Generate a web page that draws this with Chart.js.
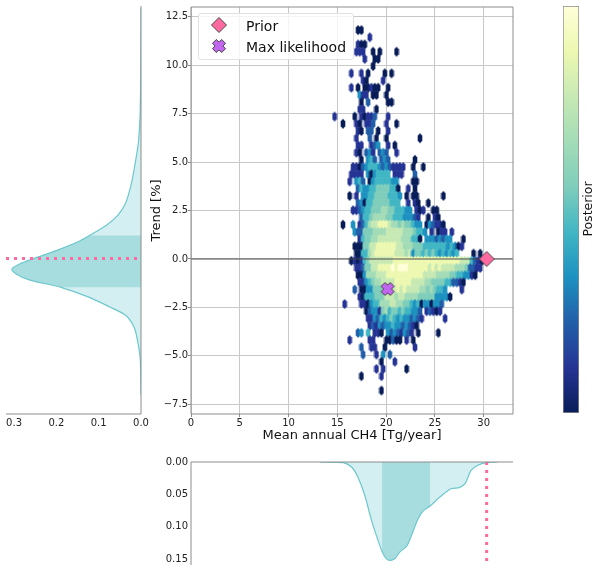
<!DOCTYPE html>
<html>
<head>
<meta charset="utf-8">
<title>Posterior</title>
<script src="https://cdn.jsdelivr.net/npm/chart.js@4"></script>
<style>
html,body{margin:0;padding:0;background:#fff;overflow:hidden;}
canvas{position:absolute;}
#left{left:0;top:0;}
#main{left:140px;top:0;}
#bottom{left:140px;top:450px;}
#cbar{left:555px;top:0;}
.legend{position:absolute;left:198px;top:13px;width:154px;height:45px;background:rgba(255,255,255,.8);border:1px solid #e2e2e2;border-radius:3px;font:14px "DejaVu Sans";color:#111;}
.legend span{position:absolute;left:47px;line-height:20px;white-space:nowrap;}
</style>
</head>
<body>
<canvas id="left" width="160" height="450"></canvas>
<canvas id="main" width="390" height="450"></canvas>
<canvas id="bottom" width="390" height="121"></canvas>
<canvas id="cbar" width="45" height="430"></canvas>
<div class="legend" id="legend"></div>
<script>
// axis ticks
const xTicks = [0,5,10,15,20,25,30];
const yTicks = [-7.5,-5,-2.5,0,2.5,5,7.5,10,12.5];
const leftTicks = [0,0.1,0.2,0.3];
const bottomTicks = [0,0.05,0.10,0.15];

// markers
const legendNames = ['Prior','Max likelihood'];
const priorPoint = {x:30.3, y:0};
const maxLikePoint = {x:20.15, y:-1.55};

// density along the trend axis (left panel)
const trendY = [12.9,10,7.5,6,5,4.03,3.34,2.82,2.22,1.7,1.19,0.89,0.41,-0.02,-0.28,-0.53,-0.79,-1.1,-1.48,-2,-2.48,-2.94,-3.55,-4.24,-5.1,-6.3,-7];
const trendDens = [0,0.0005,0.002,0.006,0.013,0.021,0.029,0.037,0.055,0.0825,0.122,0.146,0.2,0.256,0.287,0.305,0.295,0.264,0.189,0.122,0.075,0.035,0.016,0.008,0.002,0.0005,0];
const trendBand = [-1.48,1.19];

// density along the CH4 axis (bottom panel)
const ch4X = [13.2,15.6,16.45,17.1,17.8,18.5,19.17,19.58,20,20.4,20.9,21.4,22.1,22.6,23.3,23.8,24.5,25.5,26.7,27.5,28.1,28.7,29.4,30.3,31.4];
const ch4Dens = [0,0.001,0.0077,0.023,0.051,0.09,0.121,0.138,0.149,0.152,0.149,0.139,0.13,0.113,0.087,0.0755,0.068,0.054,0.041,0.0396,0.033,0.013,0.005,0.001,0];
const ch4Band = [19.58,24.5];

// hexbin lattice, one string per row from the top, digit = colour level, . = empty
const hexX0 = 14.376, hexDx = 0.343, hexY0 = 11.81, hexDy = 0.372;
const hexRows = [
"..... ...00",
"..... ..... .1",
"..... ...10 0",
"..... ..111 ..0.0 ....0",
"..... ..... 1..00",
"..... ..... ..0",
"..... .1..1 .0... .0.0",
"..... ....1 0.... 1",
"..... .1.0. 00100 ..0",
"..... ...31 1.00. .0",
"..... ....0 .2... ..00",
"..... ...11 ...0",
".1... ..0.1 0112. ..1",
"...0. ..10. 112.. .1..0",
"..... ...10 .22.0 ..1",
"..... ..1.. .2.0. .0... ..... .0",
"..... ...11 ..123 ..1.0",
"..... ..10. 231.2 32..1",
"..... ....0 .342. 232.. ..... 0",
"..... .1102 34443 23211 11..0 ..0",
"..... .1111 .3034 444.1 11... 2",
"..... 1.342 .0344 44433 ....0 0",
"..... ...24 33445 55544 0..1. 0",
"..... 0.1.3 34455 55444 3.0.0 0.... ...0",
"..... ...23 04455 55544 4..1. 10..0",
"..... .1123 44555 66554 4433. 101.. 00",
"..... ....2 44566 66554 44333 21..0 .10",
"...0. .3.12 46778 88766 56554 33.03 2110",
"..... ..322 55566 66777 77666 5443. 1.011 .1",
"..... ...14 55667 77777 76664 40.33 32323 3...0",
"..... ..000 55778 88888 77666 55544 44444 34301",
"..... ..004 46788 88887 77673 55454 54343 434.. ..0.0",
"..... .0101 45777 77778 88888 88888 88888 88887 77421 0",
"..... ..112 55778 88898 99988 88887 87877 77666 52211",
"..... ...00 36667 77888 88888 88877 77666 65544 3310",
"..... ...11 34566 77778 88887 77766 55554 42210",
"..... ..2.0 03355 57777 87877 77665 65443 ....1",
"..... ...10 44455 57776 77666 65555 53333 0",
"....1 ....1 10344 66677 66554 34033 0332",
"..... ..... 02331 56455 45443 32.12 101",
"..... ..... .1132 43454 34332 321.. ....1",
"..... ..... .1213 23343 32321 0",
"..... ...23 .4.11 0.323 21321 .0... ..0",
"..... 1.... .11.. .0020 0.1.0",
"..... ....2 ..11. .0... ..... 1",
"..... ....2 ...1. 3.2",
"..... ..... ..... 0...1",
"..... ..... ...1. 1.... ..0",
"..... ....0 ..... 1",
"",
"..... ..... ..... 0"
];
const levelColors = ['#081d58','#253494','#225ea8','#1d91c0','#41b6c4','#7fcdbb','#a3dcb7','#c7e9b4','#edf8b1','#ffffd9'];

const FONT = 'DejaVu Sans';
const SPINE = '#8c8c8c';
const TEAL = '#6cc8cc', TEAL_LIGHT = '#d4eff1', TEAL_DARK = '#a8dde0', PINK = '#ff69a0', PURPLE = '#c266f0';
Chart.defaults.font.family = FONT;
Chart.defaults.color = '#222';
Chart.defaults.animation = false;
Chart.defaults.responsive = false;
Chart.defaults.plugins.legend.display = false;
Chart.defaults.plugins.tooltip.enabled = false;

// little canvases used as point styles
const makeSprite = (w,h,path,fill,stroke) => {
    const c = document.createElement('canvas');
    c.width = w; c.height = h;
    const g = c.getContext('2d');
    g.translate(w/2,h/2);
    g.beginPath();
    path(g);
    g.closePath();
    g.fillStyle = fill;
    g.fill();
    if(stroke){
        g.strokeStyle = stroke;
        g.lineWidth = 1;
        g.stroke();
    }
    return c;
};
const hexPath = (g) => {
    const hw = 2.3, hh = 5;
    g.moveTo(0,-hh); g.lineTo(hw,-hh/2); g.lineTo(hw,hh/2); g.lineTo(0,hh); g.lineTo(-hw,hh/2); g.lineTo(-hw,-hh/2);
};
const diamondPath = (r) => (g) => {
    g.moveTo(0,-r); g.lineTo(r,0); g.lineTo(0,r); g.lineTo(-r,0);
};
const crossPath = (r) => (g) => {
    const t = r*0.42;
    const pts = [[-t,-r],[t,-r],[t,-t],[r,-t],[r,t],[t,t],[t,r],[-t,r],[-t,t],[-r,t],[-r,-t],[-t,-t]];
    pts.forEach((p,i) => {
        const px = (p[0]-p[1])*Math.SQRT1_2, py = (p[0]+p[1])*Math.SQRT1_2;
        if(i==0){ g.moveTo(px,py); } else { g.lineTo(px,py); }
    });
};
const hexSprites = levelColors.map(col => makeSprite(6,12,hexPath,col));
const priorSprite = makeSprite(18,18,diamondPath(7.5),PINK,'#444');
const maxSprite = makeSprite(18,18,crossPath(6.5),PURPLE,'#444');

// build hex cells from the rows
const hexCells = [];
const hexLevels = [];
hexRows.forEach((row,r) => {
    const cols = row.replace(/ /g,'');
    for(let c=0;c<cols.length;c++){
        if(cols[c]=='.') continue;
        hexCells.push({x: hexX0 + (c + (r%2)*0.5)*hexDx, y: hexY0 - r*hexDy});
        hexLevels.push(Number(cols[c]));
    }
});

const fixTicks = (values) => (scale) => { scale.ticks = values.map(v => ({value:v})); };
const minusLabel = (digits) => (v) => Number(v).toFixed(digits).replace('-','\u2212');
const pairs = (xs,ys) => xs.map((x,i) => ({x:x,y:ys[i]}));

// plot area border, only on the sides asked for
const spines = {
    id:'spines',
    afterDatasetsDraw(chart,args,opts){
        const {left,right,top,bottom} = chart.chartArea;
        const g = chart.ctx;
        g.save();
        g.strokeStyle = SPINE;
        g.lineWidth = 1;
        g.beginPath();
        if(opts.left){ g.moveTo(left,top); g.lineTo(left,bottom); }
        if(opts.right){ g.moveTo(right,top); g.lineTo(right,bottom); }
        if(opts.top){ g.moveTo(left,top); g.lineTo(right,top); }
        if(opts.bottom){ g.moveTo(left,bottom); g.lineTo(right,bottom); }
        g.stroke();
        g.restore();
    }
};

const tickOpts = (digits) => ({color:'#222',font:{size:10},padding:0,autoSkip:false,maxRotation:0,callback:minusLabel(digits)});

// left panel, density against trend
const trendPts = pairs(trendDens,trendY);
const trendBandPts = trendPts.filter(p => p.y>=trendBand[0] && p.y<=trendBand[1]);
const closeToY = (pts) => [{x:0,y:pts[0].y},...pts,{x:0,y:pts[pts.length-1].y}];
new Chart(document.getElementById('left'),{
    type:'scatter',
    data:{datasets:[
        {data:[{x:0.319,y:0},{x:0,y:0}],showLine:true,borderColor:PINK,borderWidth:3,borderDash:[3,5],pointRadius:0},
        {data:trendPts,showLine:true,borderColor:TEAL,borderWidth:1.2,pointRadius:0,tension:0.3},
        {data:closeToY(trendBandPts),showLine:true,fill:'shape',backgroundColor:TEAL_DARK,borderWidth:0,pointRadius:0},
        {data:closeToY(trendPts),showLine:true,fill:'shape',backgroundColor:TEAL_LIGHT,borderWidth:0,pointRadius:0}
    ]},
    options:{
        layout:{padding:{left:6,right:19,top:6,bottom:0}},
        scales:{
            x:{type:'linear',reverse:true,min:0,max:0.319,afterBuildTicks:fixTicks(leftTicks),afterFit:s=>{s.height=36;},
               grid:{display:false,drawTicks:true,tickLength:3,tickColor:SPINE},border:{display:false},ticks:tickOpts(1)},
            y:{type:'linear',min:-8,max:13,position:'right',afterFit:s=>{s.width=0;},grid:{display:false},border:{display:false},ticks:{display:false}}
        },
        plugins:{spines:{right:true,bottom:true}}
    },
    plugins:[spines]
});

// main panel
new Chart(document.getElementById('main'),{
    type:'scatter',
    data:{datasets:[
        {label:legendNames[1],data:[maxLikePoint],pointStyle:maxSprite,pointRadius:6},
        {label:legendNames[0],data:[priorPoint],pointStyle:priorSprite,pointRadius:6},
        {data:[{x:0,y:0},{x:33,y:0}],showLine:true,borderColor:'rgba(70,70,70,0.65)',borderWidth:1.5,pointRadius:0},
        {data:hexCells,pointStyle:hexLevels.map(l => hexSprites[l]),pointRadius:3}
    ]},
    options:{
        layout:{padding:{left:0,right:17,top:6,bottom:0}},
        scales:{
            x:{type:'linear',min:0,max:33,afterBuildTicks:fixTicks(xTicks),afterFit:s=>{s.height=36;},
               grid:{color:'#c8c8c8',tickColor:SPINE,tickLength:3},border:{display:false},ticks:tickOpts(0),
               title:{display:true,text:'Mean annual CH4 [Tg/year]',color:'#111',font:{size:13},padding:{top:0,bottom:7}}},
            y:{type:'linear',min:-8,max:13,afterBuildTicks:fixTicks(yTicks),afterFit:s=>{s.width=51;},
               grid:{color:'#c8c8c8',tickColor:SPINE,tickLength:3},border:{display:false},ticks:tickOpts(1),
               title:{display:true,text:'Trend [%]',color:'#111',font:{size:13},padding:{top:9,bottom:0}}}
        },
        plugins:{spines:{left:true,right:true,top:true,bottom:true}}
    },
    plugins:[spines]
});

// bottom panel, density against CH4
const ch4Pts = pairs(ch4X,ch4Dens);
const ch4BandPts = ch4Pts.filter(p => p.x>=ch4Band[0] && p.x<=ch4Band[1]);
const closeToX = (pts) => [{x:pts[0].x,y:0},...pts,{x:pts[pts.length-1].x,y:0}];
new Chart(document.getElementById('bottom'),{
    type:'scatter',
    data:{datasets:[
        {data:[{x:priorPoint.x,y:0},{x:priorPoint.x,y:0.159}],showLine:true,borderColor:PINK,borderWidth:3,borderDash:[3,5],pointRadius:0},
        {data:ch4Pts,showLine:true,borderColor:TEAL,borderWidth:1.2,pointRadius:0,tension:0.3},
        {data:closeToX(ch4BandPts),showLine:true,fill:'shape',backgroundColor:TEAL_DARK,borderWidth:0,pointRadius:0},
        {data:closeToX(ch4Pts),showLine:true,fill:'shape',backgroundColor:TEAL_LIGHT,borderWidth:0,pointRadius:0}
    ]},
    options:{
        layout:{padding:{left:0,right:17,top:12,bottom:6}},
        scales:{
            x:{type:'linear',position:'top',min:0,max:33,afterFit:s=>{s.height=0;},grid:{display:false},border:{display:false},ticks:{display:false}},
            y:{type:'linear',reverse:true,min:0,max:0.159,afterBuildTicks:fixTicks(bottomTicks),afterFit:s=>{s.width=51;},
               grid:{display:false,drawTicks:true,tickLength:3,tickColor:SPINE},border:{display:false},ticks:tickOpts(2)}
        },
        plugins:{spines:{left:true,top:true}}
    },
    plugins:[spines]
});

// label beside the colour bar, reads upwards
const cbarLabel = {
    id:'cbarLabel',
    afterDraw(chart){
        const g = chart.ctx;
        g.save();
        g.translate(33.5,209);
        g.rotate(-Math.PI/2);
        g.font = '12.5px "'+FONT+'"';
        g.fillStyle = '#111';
        g.textAlign = 'center';
        g.textBaseline = 'middle';
        g.fillText('Posterior',0,0);
        g.restore();
    }
};

// colour bar, one bar with a gradient
new Chart(document.getElementById('cbar'),{
    type:'bar',
    data:{labels:['Posterior'],datasets:[{
        data:[1],
        barPercentage:1,
        categoryPercentage:1,
        borderColor:'#8c8c8c',
        borderWidth:1,
        borderSkipped:false,
        backgroundColor:(ctx) => {
            const area = ctx.chart.chartArea;
            if(!area) return levelColors[0];
            const grad = ctx.chart.ctx.createLinearGradient(0,area.bottom,0,area.top);
            levelColors.forEach((col,i) => grad.addColorStop(i/(levelColors.length-1),col));
            return grad;
        }
    }]},
    options:{
        layout:{padding:{left:8,right:21,top:6,bottom:17}},
        scales:{x:{display:false},y:{display:false,min:0,max:1}}
    },
    plugins:[cbarLabel]
});

// legend
const legendBox = document.getElementById('legend');
[priorSprite,maxSprite].forEach((sprite,i) => {
    sprite.style.left = '11px';
    sprite.style.top = (2+i*21)+'px';
    legendBox.appendChild(sprite);
    const label = document.createElement('span');
    label.textContent = legendNames[i];
    label.style.top = (2+i*21)+'px';
    legendBox.appendChild(label);
});
</script>
</body>
</html>
